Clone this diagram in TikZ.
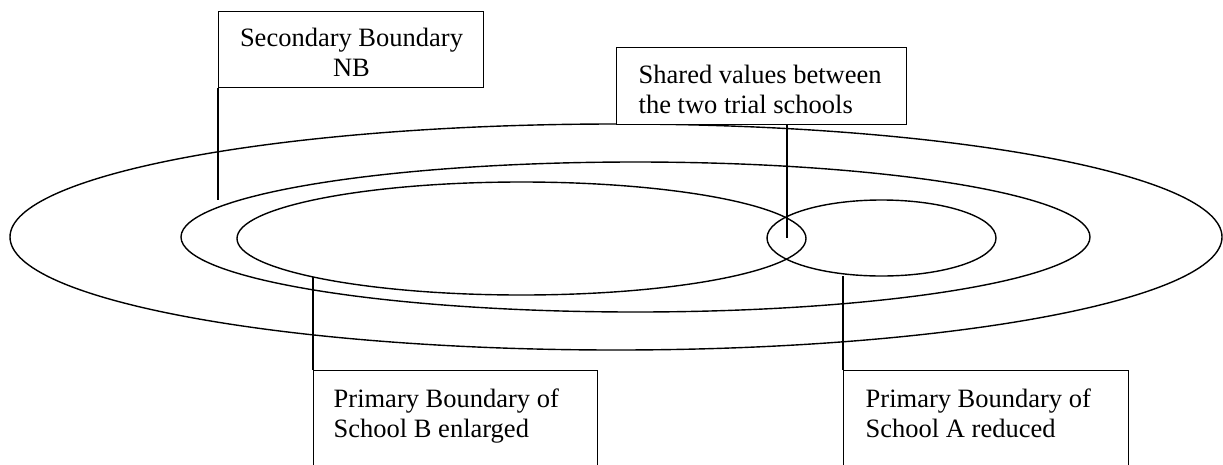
\documentclass[tikz,border=0pt]{standalone}
\usepackage{fontspec}
\setmainfont{Liberation Serif}
\begin{document}
\begin{tikzpicture}[x=1pt,y=-1pt,line width=1.4pt,
  box/.style={draw,fill=white,rectangle,inner sep=0pt,anchor=north west},
  lbl/.style={font=\fontsize{26.5}{30}\selectfont,inner sep=0pt,anchor=base west}]
\useasboundingbox (0,0) rectangle (1223,464);
\clip (0,0) rectangle (1223,464);
% boundaries
\draw (616,237) ellipse [x radius=606pt, y radius=113pt];
\draw (635.5,237) ellipse [x radius=454.5pt, y radius=75pt];
\draw (521.5,238.5) ellipse [x radius=284.5pt, y radius=56.5pt];
\draw (881.5,238) ellipse [x radius=114.5pt, y radius=38pt];
% boxes
\node[box,minimum width=265pt,minimum height=76pt] (sec) at (218,11) {};
\node[lbl,anchor=base] (sect1) at (351.5,46) {Secondary Boundary};
\node[lbl,anchor=base] (sect2) at (351.5,76) {NB};
\node[box,minimum width=290pt,minimum height=77pt] (sh) at (616,47) {};
\node[lbl] (sht1) at (638,83) {Shared values between};
\node[lbl] (sht2) at (638,113) {the two trial schools};
\node[box,minimum width=284pt,minimum height=110pt] (pb) at (313,370) {};
\node[lbl] (pbt1) at (333,407) {Primary Boundary of};
\node[lbl] (pbt2) at (333,437) {School B enlarged};
\node[box,minimum width=285pt,minimum height=110pt] (pa) at (843,370) {};
\node[lbl] (pat1) at (865,407) {Primary Boundary of};
\node[lbl] (pat2) at (865,437) {School A reduced};
% connectors
\coordinate (secend) at (218,200);
\coordinate (lens) at (787,238);
\coordinate (bfoot) at (313,277);
\coordinate (afoot) at (843,276);
\draw (sec.south west) -- (secend);
\draw (sh.south -| lens) -- (lens);
\draw (bfoot) -- (pb.north west);
\draw (afoot) -- (pa.north west);
\end{tikzpicture}
\end{document}
